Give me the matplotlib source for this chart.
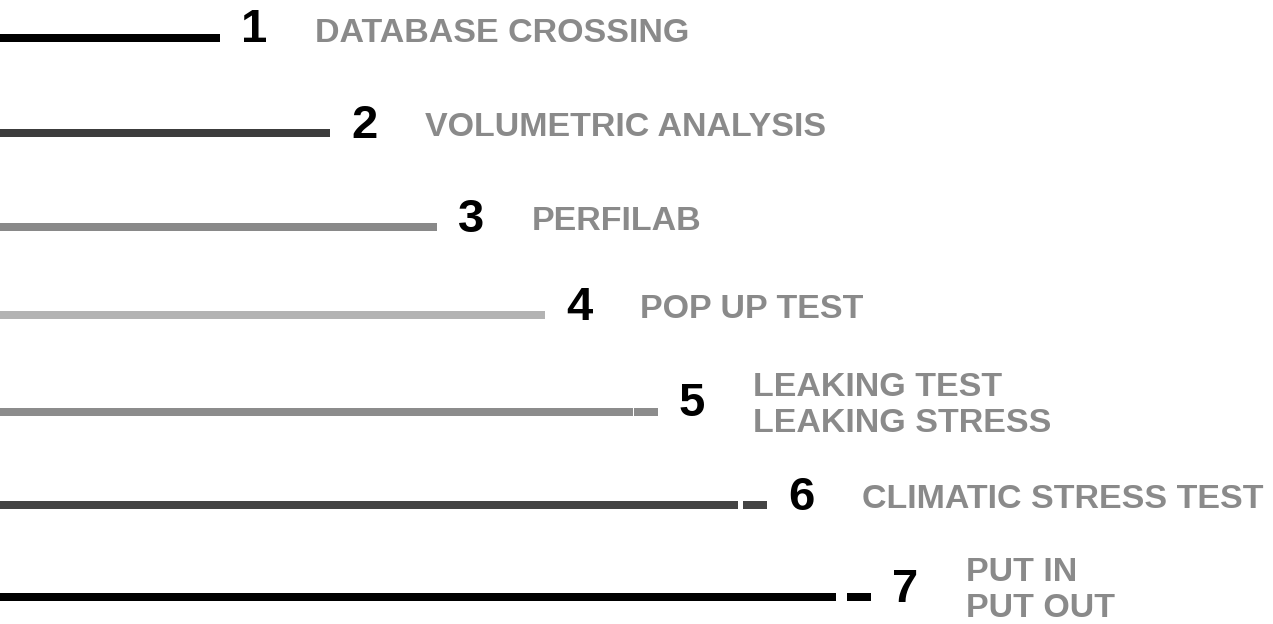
import matplotlib.pyplot as plt

# steps of the process, top to bottom
steps = ['1', '2', '3', '4', '5', '6', '7']
labels = ['DATABASE CROSSING', 'VOLUMETRIC ANALYSIS', 'PERFILAB', 'POP UP TEST',
          'LEAKING TEST\nLEAKING STRESS', 'CLIMATIC STRESS TEST', 'PUT IN\nPUT OUT']
# bar lengths (end of the whole bar), the small gap and the tail piece
totals = [220, 330, 437, 545, 658, 767, 871]
gaps = [0, 0, 0, 0, 1.5, 5, 11]
tails = [0, 0, 0, 0, 24, 24, 24]
rows = [38, 133, 227, 315, 412, 505, 597]
colors = ['#000000', '#3c3c3c', '#898989', '#b3b3b3', '#8c8c8c', '#444444', '#000000']

plt.rcParams['font.family'] = ['Liberation Sans', 'DejaVu Sans']

fig = plt.figure(figsize=(12.73, 6.24), dpi=100)
ax = fig.add_axes([0, 0, 1, 1])

for i in range(len(steps)):
    main = totals[i] - tails[i] - gaps[i]
    ax.barh(rows[i], main, height=8, left=0, color=colors[i])
    if tails[i] > 0:
        ax.barh(rows[i], tails[i], height=8, left=totals[i] - tails[i], color=colors[i])
    base = rows[i] + 4.5
    ax.text(totals[i] + 21, base, steps[i], fontsize=34, fontweight='bold',
            color='black', va='baseline', ha='left')
    if '\n' in labels[i]:
        # last line baseline sits below the bar, first line above it
        ax.text(totals[i] + 95, rows[i] + 20, labels[i], fontsize=24.5, fontweight='bold',
                color='#8a8a8a', va='baseline', ha='left', linespacing=1.2)
    else:
        ax.text(totals[i] + 95, base - 1, labels[i], fontsize=24.5, fontweight='bold',
                color='#8a8a8a', va='baseline', ha='left')

ax.set_xlim(0, 1273)
ax.set_ylim(624, 0)
ax.axis('off')

fig.savefig('out.png', dpi=100)
